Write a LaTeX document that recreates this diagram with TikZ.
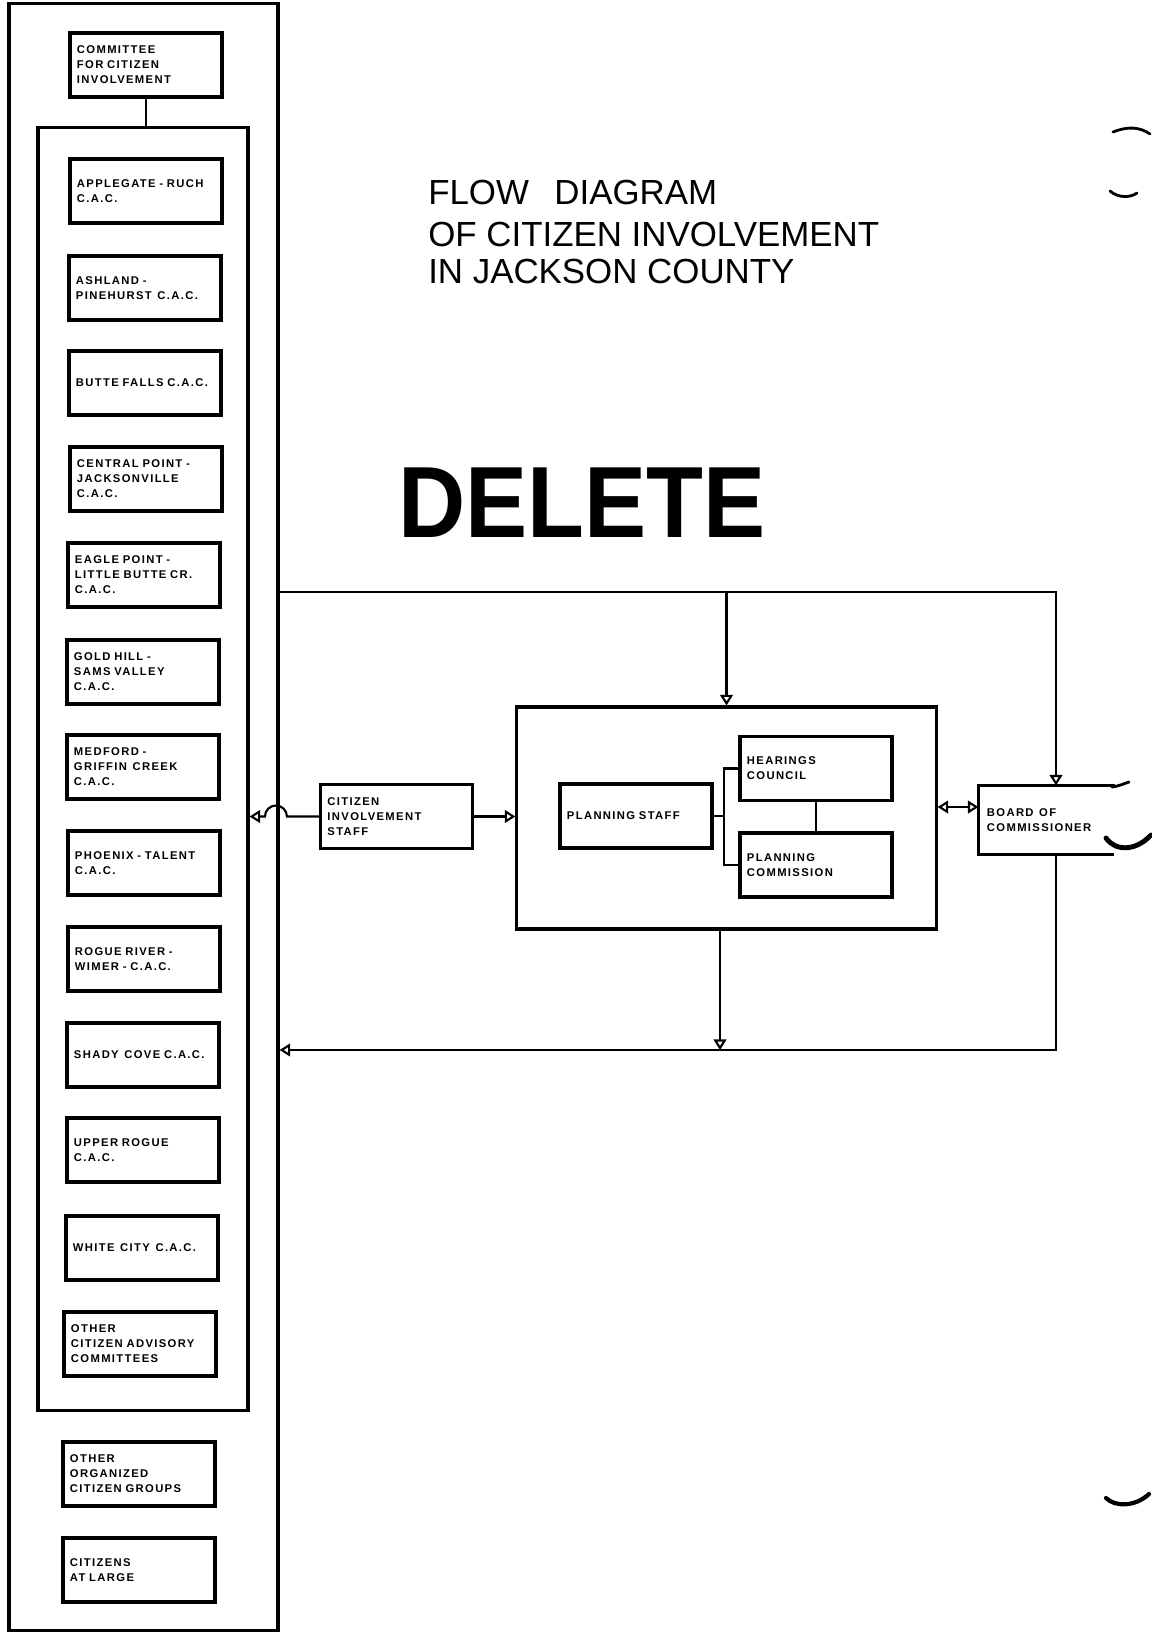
\documentclass[tikz,border=0pt]{standalone}
\usepackage{fontspec}
\usetikzlibrary{arrows.meta}
\newfontfamily\labelfont[LetterSpace=12]{Liberation Sans}
\newfontfamily\titlefont{Liberation Sans}
\newcommand{\boxfont}{\labelfont\bfseries\fontsize{8}{10.6}\selectfont}

\begin{document}
\begin{tikzpicture}[x=0.025cm,y=-0.025cm,>={Triangle[open,length=7.5pt,width=9pt]}]
\tikzstyle{orgbox}=[draw, line width=2.2pt, minimum width=3.8cm, minimum height=1.6cm, text width=3.45cm, inner xsep=0.175cm, inner ysep=0pt, align=left, font=\boxfont]
\tikzstyle{panel}=[draw, line width=2.2pt, inner sep=0pt]
\tikzstyle{conn}=[line width=1.5pt]
\path[use as bounding box, fill=white] (0,0) rectangle (1152,1633);
\draw (143.5,817) node (colframe) [panel, minimum width=6.725cm, minimum height=40.65cm] {};
\draw (143,769) node (cacframe) [panel, minimum width=5.25cm, minimum height=32.05cm] {};
\draw (146,65) node (cci) [orgbox] {COMMITTEE\\FOR CITIZEN\\INVOLVEMENT};
\draw (146,191) node (applegate) [orgbox] {APPLEGATE - RUCH\\C.A.C.};
\draw (145,288) node (ashland) [orgbox] {ASHLAND -\\PINEHURST\, C.A.C.};
\draw (145,383) node (butte) [orgbox] {BUTTE FALLS C.A.C.};
\draw (146,479) node (central) [orgbox] {CENTRAL POINT -\\JACKSONVILLE\\C.A.C.};
\draw (144,575) node (eagle) [orgbox] {EAGLE POINT -\\LITTLE BUTTE CR.\\C.A.C.};
\draw (143,672) node (gold) [orgbox] {GOLD HILL -\\SAMS VALLEY\\C.A.C.};
\draw (143,767) node (medford) [orgbox] {MEDFORD -\\GRIFFIN\, CREEK\\C.A.C.};
\draw (144,863) node (phoenix) [orgbox] {PHOENIX - TALENT\\C.A.C.};
\draw (144,959) node (rogue) [orgbox] {ROGUE RIVER -\\WIMER - C.A.C.};
\draw (143,1055) node (shady) [orgbox] {SHADY\, COVE C.A.C.};
\draw (143,1150) node (upper) [orgbox] {UPPER ROGUE\\C.A.C.};
\draw (142,1248) node (white) [orgbox] {WHITE\, CITY\, C.A.C.};
\draw (140,1344) node (othercac) [orgbox] {OTHER\\CITIZEN ADVISORY\\COMMITTEES};
\draw (139,1474) node (othergrp) [orgbox] {OTHER\\ORGANIZED\\CITIZEN GROUPS};
\draw (139,1570) node (atlarge) [orgbox] {CITIZENS\\AT LARGE};
\draw (396.5,816.5) node (cis) [orgbox] {CITIZEN\\INVOLVEMENT\\STAFF};
\draw (726.5,818) node (planarea) [panel, minimum width=10.475cm, minimum height=5.55cm] {};
\draw (636,816) node (ps) [orgbox] {PLANNING STAFF};
\draw (816,768.5) node (hc) [orgbox] {HEARINGS\\COUNCIL};
\draw (816,865) node (pc) [orgbox] {PLANNING\\COMMISSION};
\draw (1056,820) node (board) [orgbox, draw=none, minimum height=1.65cm] {BOARD\, OF\\COMMISSIONER};
\draw[line width=2.2pt] ([xshift=-0.475cm]board.north east) -- (board.north west) -- (board.south west) -- ([xshift=-0.5cm]board.south east);
\draw (428,204) node (title1) [anchor=base west, inner sep=0pt, font=\titlefont\fontsize{24.8}{28}\selectfont] {FLOW\hspace{0.45em} DIAGRAM};
\draw (428,246) node (title2) [anchor=base west, inner sep=0pt, font=\titlefont\fontsize{24.8}{28}\selectfont] {OF CITIZEN INVOLVEMENT};
\draw (428,283) node (title3) [anchor=base west, inner sep=0pt, font=\titlefont\fontsize{24.8}{28}\selectfont] {IN JACKSON COUNTY};
\draw (398,537) node (stamp) [anchor=base west, inner sep=0pt, font=\titlefont\bfseries\fontsize{72}{80}\selectfont] {\scalebox{0.92}[1]{DELETE}};
\coordinate (topbus) at (726.5,592);
\coordinate (botbus) at (720,1050);
\coordinate (pb) at (958,807);
\coordinate (psjoint) at (724,816);
\draw[conn] (cci.south) -- (cci.south |- cacframe.north);
\draw[conn,->] (colframe.east |- topbus) -| (board.north);
\draw[conn,->] (topbus) -- (planarea.north);
\draw[conn,->] (board.south) |- (colframe.east |- botbus);
\draw[conn,->] (planarea.south -| botbus) -- (botbus);
\draw[conn,<->] (planarea.east |- pb) -- (board.west |- pb);
\draw[conn,->] (cis.east) -- (cis.east -| planarea.west);
\draw[conn,->] (cis.west) -- ++(-32,0) arc (0:-180:11) -- (cacframe.east |- cis.west);
\draw[conn] (ps.east) -- (psjoint);
\draw[conn] (hc.west) -| (psjoint) |- (pc.west);
\draw[conn] (hc.south) -- (pc.north);
\draw[line width=2pt, line cap=round] (1113,132) .. controls (1128,126) and (1140,127) .. (1150,134);
\draw[line width=2pt, line cap=round] (1110,191) .. controls (1118,198) and (1130,198) .. (1137,193);
\draw[line width=2pt, line cap=round] (1112,787) .. controls (1119,786) and (1123,784) .. (1129,782);
\draw[line width=3.5pt, line cap=round] (1106,838) .. controls (1115,851) and (1135,852) .. (1151,835);
\draw[line width=3pt, line cap=round] (1106,1498) .. controls (1115,1507) and (1135,1507) .. (1149,1494);
\end{tikzpicture}
\end{document}
